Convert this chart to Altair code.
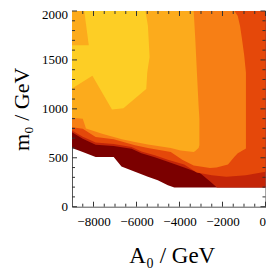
import altair as alt
import pandas as pd

# ---------------- colours of the contour levels ----------------
C_MAROON = "#7B0000"
C_RED = "#C42508"
C_REDOR = "#E5480A"
C_ORANGE = "#F77F15"
C_LIGHT = "#FCAB1C"
C_YELLOW = "#FDCE25"

# ---------------- contour regions (A0 in GeV, m0 lower / upper edge in GeV) ----------------
maroon_A0 = [-9000, -8500, -7900, -7060, -6700, -6070, -5470, -5010, -4540, -4240, 0]
maroon_lo = [600, 560, 508, 508, 410, 356, 305, 271, 220, 197, 197]
maroon_hi = [2000, 2000, 2000, 2000, 2000, 2000, 2000, 2000, 2000, 2000, 2000]

red_A0 = [-9000, -8500, -7900, -7060, -6230, -5770, -5150, -4540, -3780, -3020, -2560, -2260, 0]
red_lo = [762, 695, 634, 620, 593, 545, 505, 460, 400, 339, 254, 197, 197]
red_hi = [2000, 2000, 2000, 2000, 2000, 2000, 2000, 2000, 2000, 2000, 2000, 2000, 2000]

redor_A0 = [-9000, -8500, -7900, -7060, -6230, -5770, -5150, -4540, -3780, -3200, -2500, -1820, -910, 0]
redor_lo = [778, 715, 655, 640, 610, 565, 525, 480, 430, 350, 322, 305, 322, 356]
redor_hi = [2000, 2000, 2000, 2000, 2000, 2000, 2000, 2000, 2000, 2000, 2000, 2000, 2000, 2000]

orange_A0 = [-9000, -8500, -7900, -7060, -6074, -5470, -4406, -3873, -3340, -2583, -2278, -1745,
             -1443, -1290, -1184, -1092, -988, -910]
orange_lo = [813, 797, 711, 690, 627, 600, 559, 480, 420, 395, 400, 430,
             510, 545, 560, 572, 585, 594]
orange_hi = [2000, 2000, 2000, 2000, 2000, 2000, 2000, 2000, 2000, 2000, 2000, 2000,
             2000, 1948, 1846, 1711, 1542, 1372]

light_A0 = [-9000, -8500, -8350, -7600, -6685, -6074, -5468, -4406, -3950, -3340, -3265, -3190, -3112, -3075]
light_lo = [910, 900, 800, 746, 690, 660, 635, 600, 575, 560, 570, 585, 600, 627]
light_hi = [2000, 2000, 2000, 2000, 2000, 2000, 2000, 2000, 2000, 2000, 1711, 1372, 1033, 898]

yellow_A0 = [-9000, -8052, -7140, -6607, -5590, -5545, -5500, -5468, -5391]
yellow_lo = [1209, 1338, 993, 1006, 1195, 1203, 1372, 1420, 1530]
yellow_hi = [2000, 2000, 2000, 2000, 2000, 1950, 1890, 1846, 1530]

corner_A0 = [-9000, -8430, -8220]
corner_lo = [1650, 1650, 1650]
corner_hi = [2000, 2000, 1650]

# ---------------- ticks ----------------
x_labels = [-8000, -6000, -4000, -2000, 0]
x_minor = [-8500, -7500, -7000, -6500, -5500, -5000, -4500, -3500, -3000, -2500, -1500, -1000, -500]
y_labels = [0, 500, 1000, 1500, 2000]
y_minor = [100, 200, 300, 400, 600, 700, 800, 900, 1100, 1200, 1300, 1400, 1600, 1700, 1800, 1900]

W, H = 193.5, 195.7
PAD_L, PAD_T = 64, 3
SERIF = "Liberation Serif"

xs = alt.Scale(domain=[-9000, 0], nice=False, zero=False)
ys = alt.Scale(domain=[0, 2000], nice=False, zero=False)

x_axis = alt.Axis(values=x_labels, format="d", ticks=False, tickSize=0, domain=False, grid=False,
                  labelFont=SERIF, labelFontSize=13, labelColor="black", labelPadding=9,
                  labelFlush=True, labelOverlap=False,
                  title="A₀ / GeV", titleFont=SERIF, titleFontSize=23, titleFontWeight="normal",
                  titleColor="black", titleX=W / 2 + 3, titleAlign="center", titleY=55.5,
                  titleBaseline="alphabetic")
y_axis = alt.Axis(values=y_labels, format="d", ticks=False, tickSize=0, domain=False, grid=False,
                  labelFont=SERIF, labelFontSize=13, labelColor="black", labelPadding=4.5,
                  labelFlush=False, labelOverlap=False,
                  labelOffset={"condition": {"test": "datum.value === 2000", "value": 4}, "value": 0},
                  title="m₀ / GeV", titleFont=SERIF, titleFontSize=22, titleFontWeight="normal",
                  titleColor="black", titleX=-44, titleY=H / 2, titleBaseline="alphabetic")


def patch(a0, lo, hi, color):
    df = pd.DataFrame({"A0": a0, "lo": lo, "hi": hi})
    return alt.Chart(df).mark_area(color=color, interpolate="linear", opacity=1).encode(
        x=alt.X("A0:Q", scale=xs, axis=x_axis),
        y=alt.Y("lo:Q", scale=ys, axis=y_axis),
        y2="hi:Q",
    )


layers = [
    patch(maroon_A0, maroon_lo, maroon_hi, C_MAROON),
    patch(red_A0, red_lo, red_hi, C_RED),
    patch(redor_A0, redor_lo, redor_hi, C_REDOR),
    patch(orange_A0, orange_lo, orange_hi, C_ORANGE),
    patch(light_A0, light_lo, light_hi, C_LIGHT),
    patch(yellow_A0, yellow_lo, yellow_hi, C_YELLOW),
    patch(corner_A0, corner_lo, corner_hi, C_LIGHT),
]

TICK = "#333333"


def xticks(vals, length):
    df = pd.DataFrame({"v": vals})
    bottom = alt.Chart(df).mark_rule(color=TICK, strokeWidth=1).encode(
        x=alt.X("v:Q", scale=xs, axis=x_axis), y=alt.value(H), y2=alt.value(H - length))
    top = alt.Chart(df).mark_rule(color=TICK, strokeWidth=1).encode(
        x=alt.X("v:Q", scale=xs, axis=x_axis), y=alt.value(0), y2=alt.value(length))
    return [bottom, top]


def yticks(vals, length):
    df = pd.DataFrame({"v": vals})
    left = alt.Chart(df).mark_rule(color=TICK, strokeWidth=1).encode(
        y=alt.Y("v:Q", scale=ys, axis=y_axis), x=alt.value(0), x2=alt.value(length))
    right = alt.Chart(df).mark_rule(color=TICK, strokeWidth=1).encode(
        y=alt.Y("v:Q", scale=ys, axis=y_axis), x=alt.value(W), x2=alt.value(W - length))
    return [left, right]


layers += xticks(x_labels, 5) + xticks(x_minor, 3) + yticks(y_labels, 5) + yticks(y_minor, 3)

chart = alt.layer(*layers).properties(
    width=W, height=H,
    padding={"left": PAD_L, "top": PAD_T, "right": 0.5, "bottom": 62},
    autosize=alt.AutoSizeParams(type="none"),
).configure_view(stroke="#555555", strokeWidth=1)

chart.save("out.html", embed_options={"renderer": "svg", "actions": False})
